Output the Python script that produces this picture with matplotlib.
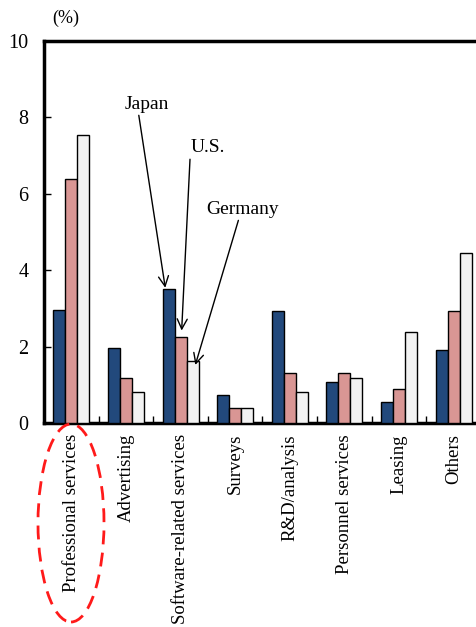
import matplotlib
matplotlib.use("Agg")
import matplotlib.pyplot as plt
from matplotlib.patches import Ellipse
import numpy as np

plt.rcParams['font.family'] = ['Liberation Serif', 'DejaVu Serif']

categories = ["Professional services", "Advertising", "Software-related services",
              "Surveys", "R&D/analysis", "Personnel services", "Leasing", "Others"]
japan = [2.97, 1.97, 3.50, 0.72, 2.93, 1.07, 0.55, 1.90]
us = [6.38, 1.17, 2.25, 0.38, 1.30, 1.30, 0.88, 2.93]
germany = [7.55, 0.80, 1.62, 0.38, 0.80, 1.17, 2.37, 4.45]
series_names = ["Japan", "U.S.", "Germany"]
colors = ["#22497c", "#d99694", "#f2f2f2"]
y_ticks = [0, 2, 4, 6, 8, 10]

W, H = 477, 627
fig = plt.figure(figsize=(W / 100, H / 100), dpi=100)
# axes box in pixel units: left 44, top 41, bottom 423, right edge runs past the figure
ax_l, ax_t, ax_b, ax_r = 44, 41, 423, 481
ax = fig.add_axes([ax_l / W, 1 - ax_b / H, (ax_r - ax_l) / W, (ax_b - ax_t) / H])

x = np.arange(len(categories))
bw = 0.22
for i, (vals, c) in enumerate(zip([japan, us, germany], colors)):
    ax.bar(x + (i - 1) * bw, vals, width=bw, color=c, edgecolor="black", linewidth=1.0, zorder=3)

ax.set_xlim(-0.5, len(categories) - 0.5)
ax.set_ylim(0, 10)
ax.set_yticks(y_ticks)
ax.set_yticklabels([str(v) for v in y_ticks], fontsize=14.5)
ax.tick_params(axis="y", direction="in", length=5, width=1, pad=11)

ax.set_xticks(x[:-1] + 0.5, minor=True)
ax.set_xticks(x)
ax.set_xticklabels(categories, rotation=90, fontsize=13.5, va="top", ha="center")
ax.tick_params(axis="x", which="major", length=0, pad=8)
ax.tick_params(axis="x", which="minor", direction="in", length=5, width=1)

for s in ["left", "bottom", "top"]:
    ax.spines[s].set_linewidth(2.5)
ax.spines["right"].set_visible(False)

fig.text(52 / W, 1 - 18 / H, "(%)", fontsize=13, ha="left", va="center")

arrow = dict(arrowstyle="->", color="black", lw=1.0, mutation_scale=18, shrinkA=0, shrinkB=0)
ax.annotate("Japan", xy=(1.72, 3.54), xytext=(1.39, 8.35), fontsize=14, ha="center", va="center",
            arrowprops=dict(arrow, relpos=(0.3, 0.0)))
ax.annotate("U.S.", xy=(2.02, 2.42), xytext=(2.49, 7.2), fontsize=14, ha="center", va="center",
            arrowprops=dict(arrow, relpos=(0.0, 0.0)))
ax.annotate("Germany", xy=(2.27, 1.52), xytext=(3.14, 5.6), fontsize=14, ha="center", va="center",
            arrowprops=dict(arrow, relpos=(0.45, 0.0)))

# dashed outline around the first category label
ell = Ellipse((71 / W, 1 - 523 / H), 66 / W, 198 / H, transform=fig.transFigure,
              fill=False, edgecolor="#ff1a1a", linestyle=(0, (5, 3)), linewidth=2.0)
fig.patches.append(ell)

fig.savefig("out.png", dpi=100)
